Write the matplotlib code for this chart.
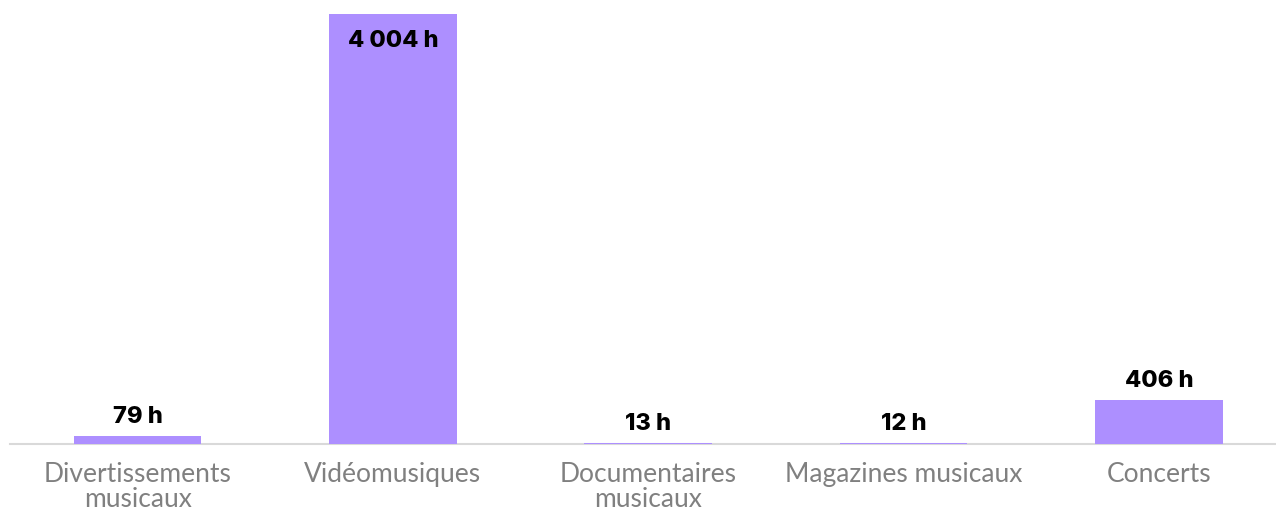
import matplotlib
matplotlib.use("Agg")
import matplotlib.pyplot as plt

categories = ["Divertissements\nmusicaux", "Vidéomusiques", "Documentaires\nmusicaux",
              "Magazines musicaux", "Concerts"]
values = [79, 4004, 13, 12, 406]
value_labels = ["79 h", "4 004 h", "13 h", "12 h", "406 h"]

BAR_COLOR = "#AD8FFF"

W, H = 1276, 512
fig = plt.figure(figsize=(W / 100, H / 100), dpi=100)
left_px, right_px = 10, 1276
bottom_px, top_px = 444, 14
ax = fig.add_axes([left_px / W, (H - bottom_px) / H, (right_px - left_px) / W, (bottom_px - top_px) / H])

x = list(range(len(values)))
ax.bar(x, values, width=0.5, color=BAR_COLOR, zorder=2)
slot = 255.3
ax.set_xlim(-0.5, -0.5 + (right_px - left_px) / slot)
ax.set_ylim(0, max(values))

for s in ["top", "right", "left"]:
    ax.spines[s].set_visible(False)
ax.spines["bottom"].set_color("#D9D9D9")
ax.spines["bottom"].set_linewidth(1.5)
ax.spines["bottom"].set_zorder(1)
ax.set_yticks([])
ax.set_xticks(x)
ax.set_xticklabels(categories, fontsize=19, color="#808080", family=["Lato", "DejaVu Sans"],
                   fontweight="normal", linespacing=1.0)
ax.tick_params(axis="x", length=0, pad=13)

vmax = max(values)
for xi, v, lab in zip(x, values, value_labels):
    if v == vmax:
        ax.annotate(lab, (xi, v), xytext=(0, -27), textcoords="offset pixels",
                    ha="center", va="center", fontsize=17, fontweight="heavy",
                    family=["Inter", "DejaVu Sans"], color="black")
    else:
        ax.annotate(lab, (xi, v), xytext=(0, 8), textcoords="offset pixels",
                    ha="center", va="bottom", fontsize=17, fontweight="heavy",
                    family=["Inter", "DejaVu Sans"], color="black")

fig.savefig("out.png", dpi=100)
